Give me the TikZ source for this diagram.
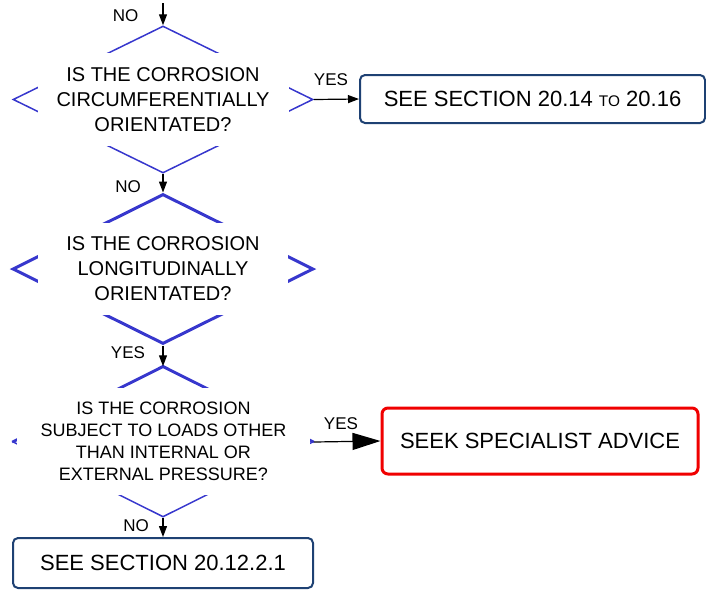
\documentclass[tikz,border=0pt]{standalone}
\usepackage{fontspec}
\setmainfont{Liberation Sans}
\usepackage{tikz}
\usetikzlibrary{shapes.geometric}
\usetikzlibrary{arrows.meta}
\definecolor{lineblue}{RGB}{55,55,205}
\definecolor{boxblue}{RGB}{30,65,115}
\definecolor{advred}{RGB}{240,0,0}
\tikzset{decision/.style={diamond, draw=lineblue, line width=0.75pt, inner sep=0pt, minimum width=150pt, minimum height=73.5pt},
  question/.style={fill=white, inner sep=0pt, align=center, font=\fontsize{10}{12.5}\selectfont, minimum width=125.5pt, minimum height=46.5pt},
  result/.style={draw=boxblue, line width=1pt, rounded corners=2.5pt, inner sep=0pt, font=\fontsize{11}{13}\selectfont},
  answer/.style={inner sep=0pt, font=\fontsize{8.5}{10}\selectfont},
  flow/.style={-{Triangle[width=4pt,length=5.5pt]}, line width=0.6pt}}

\begin{document}
\begin{tikzpicture}[x=0.5pt,y=-0.5pt]
		\useasboundingbox (0,0) rectangle (706,590);
		\node[decision] (d1) at (163,99.5) {};
		\node[decision, line width=1.5pt, minimum width=150.5pt, minimum height=75pt] (d2) at (163,269) {};
		\node[decision, minimum height=75pt] (d3) at (163,442) {};
		\draw[lineblue, line width=1.25pt] (d3.west) -- (d3.north) -- (d3.east);
		\node[question] (q1) at (163,99.5) {IS THE CORROSION\\CIRCUMFERENTIALLY\\ORIENTATED?};
		\node[question, minimum width=125pt, minimum height=46pt] (q2) at (163,269) {IS THE CORROSION\\LONGITUDINALLY\\ORIENTATED?};
		\node[question, minimum width=146.5pt, minimum height=53.5pt, font=\fontsize{9}{11}\selectfont] (q3) at (163.5,441.5) {IS THE CORROSION\\SUBJECT TO LOADS OTHER\\THAN INTERNAL OR\\EXTERNAL PRESSURE?};
		\node[result, minimum width=172.5pt, minimum height=24pt] (r1) at (532.5,99) {SEE SECTION 20.14 {\fontsize{7.7}{9}\selectfont TO} 20.16};
		\node[result, draw=advred, line width=1.5pt, rounded corners=3pt, minimum width=158pt, minimum height=33pt] (r2) at (540,441) {SEEK SPECIALIST ADVICE};
		\node[result, minimum width=150pt, minimum height=25pt] (r3) at (163,563) {SEE SECTION 20.12.2.1};
		\coordinate (start) at (163,3);
		\draw[flow] (start) -- (d1.north);
		\draw[flow] (d1.south) -- (d2.north);
		\draw[flow] (d2.south) -- (d3.north);
		\draw[flow] (d3.south) -- (r3.north);
		\draw[flow] (d1.east) -- (r1.west);
		\draw[flow, -{Triangle[width=8.5pt,length=14pt]}] (d3.east) -- (r2.west);
		\node[answer] (no1) at (125.5,16) {NO};
		\node[answer] (no2) at (128,187) {NO};
		\node[answer] (yes2) at (128,353) {YES};
		\node[answer] (no3) at (136,526) {NO};
		\node[answer] (yes1) at (331,80) {YES};
		\node[answer] (yes3) at (341,424) {YES};
		\end{tikzpicture}
\end{document}
